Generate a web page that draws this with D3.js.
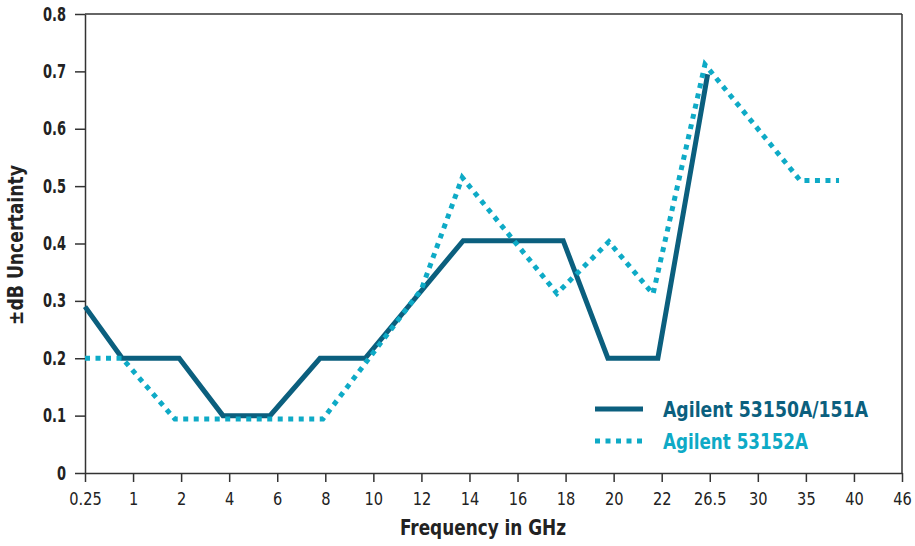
<!DOCTYPE html>
<html>
<head>
<meta charset="utf-8">
<script src="https://cdn.jsdelivr.net/npm/d3@7"></script>
<style>
  html, body { margin: 0; padding: 0; background: #fff; }
  svg { display: block; }
  text { font-family: "DejaVu Sans Condensed", "Liberation Sans Narrow", "Arial Narrow", sans-serif; }
</style>
</head>
<body>
<svg id="chart" width="915" height="546"></svg>
<script>
// ---- data ----
const categories = ["0.25","1","2","4","6","8","10","12","14","16","18","20","22","26.5","30","35","40","46"];
const tickFreqs = [0.25,1,2,4,6,8,10,12,14,16,18,20,22,26.5,30,35,40,46];
const yTicks = [0,0.1,0.2,0.3,0.4,0.5,0.6,0.7,0.8];

const seriesNames = ["Agilent 53150A/151A", "Agilent 53152A"];
const solidFreq = [0.25,0.83,1.96,3.74,5.7,7.78,9.66,13.74,17.9,19.76,21.84,26.3];
const solidVals = [0.29,0.2,0.2,0.1,0.1,0.2,0.2,0.405,0.405,0.2,0.2,0.695];
const dottedFreq = [0.25,0.83,1.87,7.9,12,13.7,17.64,19.8,21.64,26.05,34.4,38.45];
const dottedVals = [0.2,0.2,0.094,0.094,0.32,0.515,0.313,0.403,0.312,0.712,0.51,0.51];

const colors = ["#0b5f7e", "#0eaac6"];

// ---- layout ----
const mLeft = 85, mRight = 902, mTop = 14, mBottom = 473;
const svg = d3.select("#chart");

function condense(sel, factor) {
  sel.each(function () {
    const len = this.getComputedTextLength();
    d3.select(this).attr("textLength", len * factor).attr("lengthAdjust", "spacingAndGlyphs");
  });
}

const xPoint = d3.scalePoint().domain(categories).range([mLeft, mRight]);
const x = d3.scaleLinear().domain(tickFreqs).range(categories.map(c => xPoint(c)));
const y = d3.scaleLinear().domain([0, 0.8]).range([mBottom, mTop]);

const axisColor = "#333";

// frame (top and right)
svg.append("line").attr("x1", mLeft).attr("x2", mRight).attr("y1", mTop).attr("y2", mTop)
  .attr("stroke", axisColor).attr("stroke-width", 1.5);
svg.append("line").attr("x1", mRight).attr("x2", mRight).attr("y1", mTop).attr("y2", mBottom)
  .attr("stroke", axisColor).attr("stroke-width", 1.5);

// x axis
const gx = svg.append("g").attr("transform", `translate(0,${mBottom})`)
  .call(d3.axisBottom(xPoint).tickSize(9).tickSizeOuter(0).tickPadding(10));
gx.select(".domain").attr("stroke", axisColor).attr("stroke-width", 1.5);
gx.selectAll(".tick line").attr("stroke", axisColor).attr("stroke-width", 1.5);
gx.selectAll(".tick text").attr("font-size", 18).attr("fill", "#222")
  .style("font-family", '"DejaVu Sans Condensed", sans-serif');
condense(gx.selectAll(".tick text"), 0.9);

// y axis
const gy = svg.append("g").attr("transform", `translate(${mLeft},0)`)
  .call(d3.axisLeft(y).tickValues(yTicks).tickSize(10).tickSizeOuter(0).tickPadding(9)
    .tickFormat(d => d === 0 ? "0" : d3.format(".1f")(d)));
gy.select(".domain").attr("stroke", axisColor).attr("stroke-width", 1.5);
gy.selectAll(".tick line").attr("stroke", axisColor).attr("stroke-width", 1.5);
gy.selectAll(".tick text").attr("font-size", 19).attr("font-weight", "bold").attr("fill", "#222")
  .style("font-family", '"DejaVu Sans Condensed", sans-serif');
condense(gy.selectAll(".tick text"), 0.76);

// axis titles
svg.append("text").attr("x", 483).attr("y", 535).attr("text-anchor", "middle")
  .attr("font-size", 21).attr("font-weight", "bold").attr("fill", "#222")
  .attr("textLength", 166).attr("lengthAdjust", "spacingAndGlyphs")
  .text("Frequency in GHz");
svg.append("text").attr("transform", "translate(23,245) rotate(-90)").attr("text-anchor", "middle")
  .attr("font-size", 21).attr("font-weight", "bold").attr("fill", "#222")
  .attr("textLength", 160).attr("lengthAdjust", "spacingAndGlyphs")
  .text("±dB Uncertainty");

// lines
const line = d3.line().x(d => x(d[0])).y(d => y(d[1]));
const solidData = solidFreq.map((f, i) => [f, solidVals[i]]);
const dottedData = dottedFreq.map((f, i) => [f, dottedVals[i]]);

svg.append("path").datum(solidData).attr("d", line)
  .attr("fill", "none").attr("stroke", colors[0]).attr("stroke-width", 5)
  .attr("stroke-linejoin", "miter");
svg.append("path").datum(dottedData).attr("d", line)
  .attr("fill", "none").attr("stroke", colors[1]).attr("stroke-width", 5)
  .attr("stroke-dasharray", "5,5.5").attr("stroke-linecap", "butt");

// legend
const legend = svg.append("g");
const legendY = [409, 441];
const legendLen = [205, 145];
seriesNames.forEach((name, i) => {
  legend.append("line").attr("x1", 595).attr("x2", 643).attr("y1", legendY[i]).attr("y2", legendY[i])
    .attr("stroke", colors[i]).attr("stroke-width", 5)
    .attr("stroke-dasharray", i === 1 ? "5,5.5" : null);
  legend.append("text").attr("x", 663).attr("y", legendY[i] + 8)
    .attr("font-size", 22).attr("font-weight", "bold").attr("fill", colors[i])
    .attr("textLength", legendLen[i]).attr("lengthAdjust", "spacingAndGlyphs")
    .text(name);
});
</script>
</body>
</html>
